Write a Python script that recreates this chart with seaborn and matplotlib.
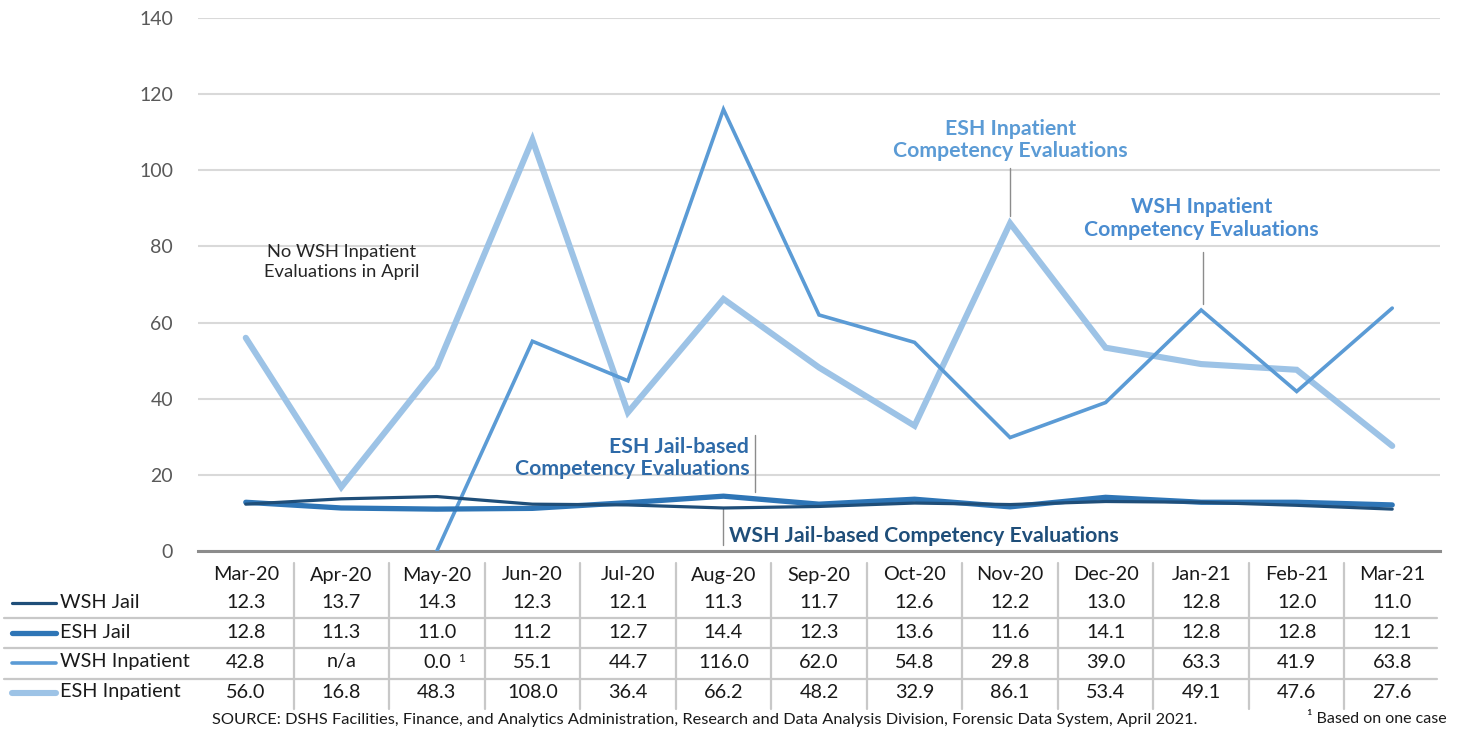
import numpy as np
import pandas as pd
import seaborn as sns
import matplotlib.pyplot as plt
from matplotlib.lines import Line2D
from matplotlib.transforms import blended_transform_factory

months = ["Mar-20", "Apr-20", "May-20", "Jun-20", "Jul-20", "Aug-20", "Sep-20",
          "Oct-20", "Nov-20", "Dec-20", "Jan-21", "Feb-21", "Mar-21"]
wsh_jail = [12.3, 13.7, 14.3, 12.3, 12.1, 11.3, 11.7, 12.6, 12.2, 13.0, 12.8, 12.0, 11.0]
esh_jail = [12.8, 11.3, 11.0, 11.2, 12.7, 14.4, 12.3, 13.6, 11.6, 14.1, 12.8, 12.8, 12.1]
wsh_inpatient = [42.8, np.nan, 0.0, 55.1, 44.7, 116.0, 62.0, 54.8, 29.8, 39.0, 63.3, 41.9, 63.8]
esh_inpatient = [56.0, 16.8, 48.3, 108.0, 36.4, 66.2, 48.2, 32.9, 86.1, 53.4, 49.1, 47.6, 27.6]

series_names = ["WSH Jail", "ESH Jail", "WSH Inpatient", "ESH Inpatient"]
series_vals = [wsh_jail, esh_jail, wsh_inpatient, esh_inpatient]
colors = ["#1f4e79", "#2e75b6", "#5b9bd5", "#9dc3e6"]
widths = [2.3, 3.8, 2.6, 4.4]

W, H = 1462, 734
sns.set_theme(style="white")
plt.rcParams["font.family"] = ["Lato", "DejaVu Sans"]

fig = plt.figure(figsize=(W / 100, H / 100), dpi=100)
ax = fig.add_axes([198 / W, 1 - 551 / H, (1440 - 198) / W, (551 - 18) / H])

def fx(px):
    return px / W

def fy(py):
    return 1 - py / H

# long table for seaborn, a NaN breaks the line into segments
rows = []
for name, vals in zip(series_names, series_vals):
    seg = 0
    for i, v in enumerate(vals):
        if np.isnan(v):
            seg += 1
            continue
        rows.append({"series": name, "pos": i, "value": v, "seg": seg})
df = pd.DataFrame(rows)

# draw back to front
for k in [3, 2, 1, 0]:
    sub = df[df["series"] == series_names[k]]
    sns.lineplot(data=sub, x="pos", y="value", units="seg", estimator=None,
                 color=colors[k], lw=widths[k], ax=ax, legend=False,
                 solid_joinstyle="miter", zorder=3 + (3 - k))

ax.set_xlim(-0.5, len(months) - 0.5)
ax.set_ylim(0, 140)
ax.set_yticks(range(0, 141, 20))
ax.set_xticks([])
ax.set_xlabel("")
ax.set_ylabel("")
ax.yaxis.grid(True, color="#d9d9d9", lw=1.5)
ax.set_axisbelow(True)
for s in ["left", "right", "top"]:
    ax.spines[s].set_visible(False)
ax.spines["bottom"].set_color("#8c8c8c")
ax.spines["bottom"].set_linewidth(2.2)
ax.tick_params(axis="y", length=0, pad=18, labelsize=14, labelcolor="#595959")

# annotations
ax.text(1, 76, "No WSH Inpatient\nEvaluations in April", ha="center", va="center",
        fontsize=13.2, color="#262626", linespacing=1.3)

ax.text(8, 108, "ESH Inpatient\nCompetency Evaluations", ha="center", va="center",
        fontsize=15.3, fontweight="bold", color="#5b9bd5", linespacing=1.15)
ax.plot([8, 8], [88, 100.5], color="#8c8c8c", lw=1)

ax.text(10.0, 87.3, "WSH Inpatient\nCompetency Evaluations", ha="center", va="center",
        fontsize=15.3, fontweight="bold", color="#4a8cd0", linespacing=1.15)
ax.plot([10.02, 10.02], [65, 78.5], color="#8c8c8c", lw=1)

ax.text(5.27, 24.4, "ESH Jail-based\nCompetency Evaluations", ha="right", va="center",
        fontsize=15.3, fontweight="bold", color="#2e6aa8", linespacing=1.15)
ax.plot([5.33, 5.33], [15.5, 30.5], color="#8c8c8c", lw=1)

ax.text(5.06, 4.0, "WSH Jail-based Competency Evaluations", ha="left", va="center",
        fontsize=15.3, fontweight="bold", color="#1f4e79")
ax.plot([4.99, 4.99], [1.5, 11.0], color="#8c8c8c", lw=1)

# data table under the chart
tr = blended_transform_factory(ax.transData, fig.transFigure)
for i, m in enumerate(months):
    ax.text(i, fy(575), m, transform=tr, ha="center", va="center", fontsize=14.3,
            color="#1a1a1a", clip_on=False)
row_y = [602, 632, 662, 692]
for k, (name, vals) in enumerate(zip(series_names, series_vals)):
    for i, v in enumerate(vals):
        lab = "n/a" if np.isnan(v) else f"{v:.1f}"
        ax.text(i, fy(row_y[k]), lab, transform=tr, ha="center", va="center",
                fontsize=14.3, color="#1a1a1a", clip_on=False)
    fig.text(fx(60), fy(row_y[k]), name, ha="left", va="center", fontsize=14.3,
             color="#1a1a1a")
    fig.add_artist(Line2D([fx(12), fx(56)], [fy(row_y[k] + 1), fy(row_y[k] + 1)],
                          color=colors[k], lw=widths[k], solid_capstyle="round"))

# footnote marker on May-20 WSH Inpatient
ax.text(2.22, fy(659), "1", transform=tr, ha="left", va="center", fontsize=8.5,
        color="#1a1a1a", clip_on=False)

for y in [618, 648, 679]:
    fig.add_artist(Line2D([fx(4), fx(1437)], [fy(y), fy(y)], color="#c8c8c8", lw=1.6))
for i in range(len(months) - 1):
    ax.plot([i + 0.5, i + 0.5], [fy(563), fy(709)], transform=tr, color="#c8c8c8",
            lw=1.6, clip_on=False)

fig.text(fx(705), fy(720), "SOURCE: DSHS Facilities, Finance, and Analytics Administration, "
         "Research and Data Analysis Division, Forensic Data System, April 2021.",
         ha="center", va="center", fontsize=11.8, color="#1a1a1a")
fig.text(fx(1447), fy(719), "\u00b9 Based on one case", ha="right", va="center",
         fontsize=11.5, color="#1a1a1a")

fig.savefig("out.png", dpi=100)
